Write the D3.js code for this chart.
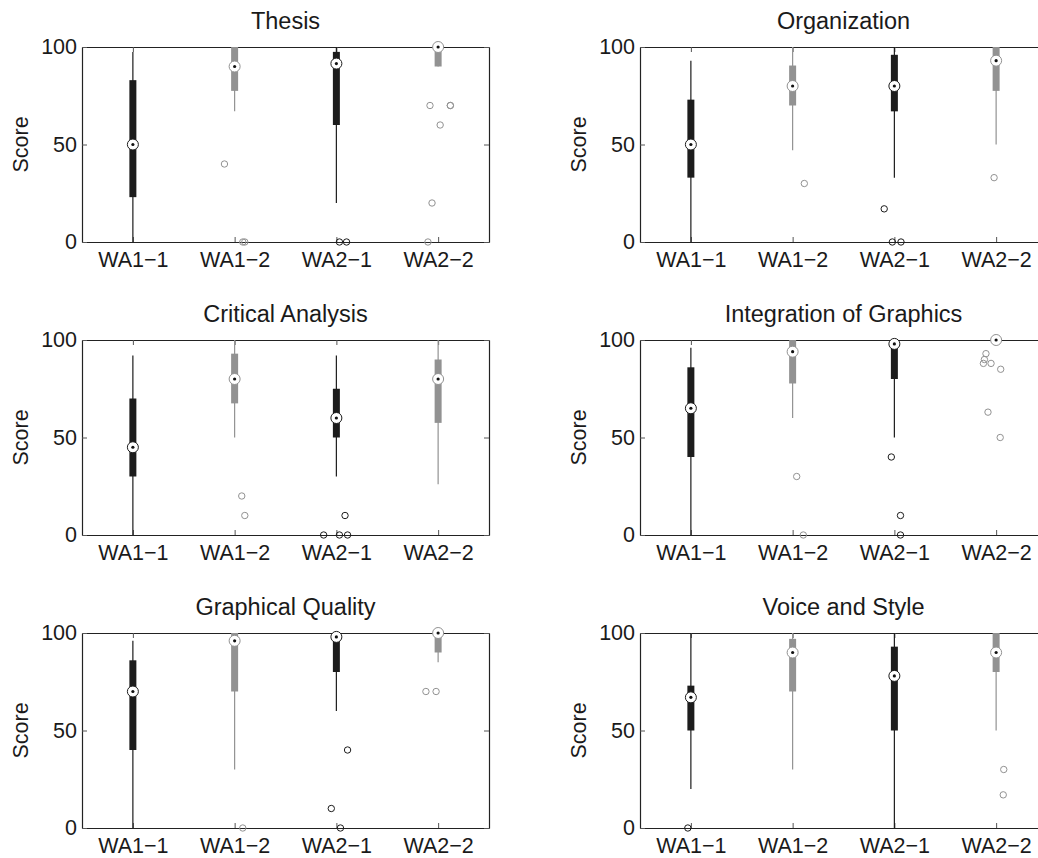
<!DOCTYPE html>
<html>
<head>
<meta charset="utf-8">
<script src="https://cdn.jsdelivr.net/npm/d3@7"></script>
<style>
  body { margin: 0; background: #fff; }
  svg { display: block; font-family: "Liberation Sans", Arial, sans-serif; }
</style>
</head>
<body>
<div id="chart"></div>
<script>
// categories and panel titles
const categories = ["WA1\u22121", "WA1\u22122", "WA2\u22121", "WA2\u22122"];
const titles = ["Thesis", "Organization", "Critical Analysis", "Integration of Graphics", "Graphical Quality", "Voice and Style"];
const yTicks = [0, 50, 100];

// box statistics, one row per panel, one value per category
const whiskerLow = [
  [0, 67, 20, 90],
  [0, 47, 33, 50],
  [0, 50, 30, 26],
  [0, 60, 50, 100],
  [0, 30, 60, 85],
  [20, 30, 0, 50]
];
const q1 = [
  [23, 77.5, 60, 90],
  [33, 70, 67, 77.5],
  [30, 67.5, 50, 57.5],
  [40, 77.7, 80, 100],
  [40, 70, 80, 90],
  [50, 70, 50, 80]
];
const median = [
  [50, 90, 91.5, 100],
  [50, 80, 80, 93],
  [45, 80, 60, 80],
  [65, 94, 98, 100],
  [70, 96, 98, 100],
  [67, 90, 78, 90]
];
const q3 = [
  [83, 100, 97.5, 100],
  [73, 90.5, 96, 100],
  [70, 93, 75, 90],
  [86, 100, 100, 100],
  [86, 100, 100, 100],
  [73, 97, 93, 100]
];
const whiskerHigh = [
  [97.5, 100, 100, 100],
  [93, 100, 100, 100],
  [92, 100, 92, 100],
  [96, 100, 100, 100],
  [96, 100, 100, 100],
  [100, 100, 100, 100]
];
// outliers: [category index, score, jitter in category units]
const outliers = [
  [[1, 40, -0.1], [1, 0, 0.08], [1, 0, 0.1], [2, 0, 0.03], [2, 0, 0.1],
   [3, 70, -0.08], [3, 70, 0.12], [3, 70, 0.12], [3, 60, 0.02], [3, 20, -0.06], [3, 0, -0.1]],
  [[1, 30, 0.115], [2, 17, -0.1], [2, 0, -0.02], [2, 0, 0.065], [3, 33, -0.02]],
  [[1, 20, 0.07], [1, 10, 0.1], [2, 10, 0.085], [2, 0, -0.125], [2, 0, 0.03], [2, 0, 0.11]],
  [[1, 30, 0.04], [1, 0, 0.105], [2, 40, -0.03], [2, 10, 0.06], [2, 0, 0.06],
   [3, 93, -0.1], [3, 90, -0.115], [3, 88, -0.125], [3, 88, -0.05], [3, 85, 0.045], [3, 63, -0.08], [3, 50, 0.04]],
  [[1, 0, 0.08], [2, 40, 0.11], [2, 10, -0.05], [2, 0, 0.04], [3, 70, -0.12], [3, 70, -0.02]],
  [[0, 0, -0.03], [3, 30, 0.075], [3, 17, 0.07]]
];

// layout
const width = 1038;
const height = 858;
const panelW = 407;
const panelH = 195;
const colX = [82, 640];
const rowY = [47, 340, 633];
const colors = ["#1c1c1c", "#929292", "#1c1c1c", "#929292"];

const svg = d3.select("#chart")
  .append("svg")
  .attr("width", width)
  .attr("height", height);

const x = d3.scaleLinear().domain([-0.5, 3.5]).range([0, panelW]);
const y = d3.scaleLinear().domain([0, 100]).range([panelH, 0]);

titles.forEach(function(title, p) {
  const g = svg.append("g")
    .attr("transform", "translate(" + colX[p % 2] + "," + rowY[Math.floor(p / 2)] + ")");

  // axes with inward ticks on all four sides
  const catTicks = d3.range(categories.length);
  g.append("g")
    .attr("class", "axis")
    .attr("transform", "translate(0," + panelH + ")")
    .call(d3.axisBottom(x).tickValues(catTicks).tickFormat(function(i) { return categories[i]; })
      .tickSizeInner(-5).tickSizeOuter(0).tickPadding(10));
  g.append("g")
    .attr("class", "axis")
    .call(d3.axisTop(x).tickValues(catTicks).tickFormat("").tickSizeInner(-5).tickSizeOuter(0));
  g.append("g")
    .attr("class", "axis")
    .call(d3.axisLeft(y).tickValues(yTicks).tickSizeInner(-5).tickSizeOuter(0).tickPadding(5));
  g.append("g")
    .attr("class", "axis")
    .attr("transform", "translate(" + panelW + ",0)")
    .call(d3.axisRight(y).tickValues(yTicks).tickFormat("").tickSizeInner(-5).tickSizeOuter(0));

  g.selectAll(".axis .domain").attr("stroke", "#222").attr("stroke-width", 1.2);
  g.selectAll(".axis .tick line").attr("stroke", "#555");
  g.selectAll(".axis text")
    .attr("fill", "#1a1a1a")
    .style("font-size", "21.5px");

  // title
  g.append("text")
    .attr("x", panelW / 2)
    .attr("y", -18)
    .attr("text-anchor", "middle")
    .attr("fill", "#1a1a1a")
    .style("font-size", "23.5px")
    .text(title);

  // y label
  g.append("text")
    .attr("transform", "translate(-54," + panelH / 2 + ") rotate(-90)")
    .attr("text-anchor", "middle")
    .attr("fill", "#1a1a1a")
    .style("font-size", "21.5px")
    .text("Score");

  const idx = d3.range(categories.length);

  // whiskers
  g.selectAll(".whisker")
    .data(idx)
    .enter()
    .append("line")
    .attr("x1", function(i) { return x(i); })
    .attr("x2", function(i) { return x(i); })
    .attr("y1", function(i) { return y(whiskerLow[p][i]); })
    .attr("y2", function(i) { return y(whiskerHigh[p][i]); })
    .attr("stroke", function(i) { return colors[i]; })
    .attr("stroke-width", 1.2);

  // boxes (thick line from q1 to q3)
  g.selectAll(".box")
    .data(idx)
    .enter()
    .append("line")
    .attr("x1", function(i) { return x(i); })
    .attr("x2", function(i) { return x(i); })
    .attr("y1", function(i) { return y(q1[p][i]); })
    .attr("y2", function(i) { return y(q3[p][i]); })
    .attr("stroke", function(i) { return colors[i]; })
    .attr("stroke-width", 7);

  // outliers
  g.selectAll(".outlier")
    .data(outliers[p])
    .enter()
    .append("circle")
    .attr("cx", function(d) { return x(d[0] + d[2]); })
    .attr("cy", function(d) { return y(d[1]); })
    .attr("r", 3.2)
    .attr("fill", "none")
    .attr("stroke", function(d) { return colors[d[0]]; })
    .attr("stroke-width", 1);

  // median markers: white circle with a dot
  g.selectAll(".med")
    .data(idx)
    .enter()
    .append("circle")
    .attr("cx", function(i) { return x(i); })
    .attr("cy", function(i) { return y(median[p][i]); })
    .attr("r", 5.5)
    .attr("fill", "#fff")
    .attr("stroke", function(i) { return colors[i]; })
    .attr("stroke-width", 1);
  g.selectAll(".dot")
    .data(idx)
    .enter()
    .append("circle")
    .attr("cx", function(i) { return x(i); })
    .attr("cy", function(i) { return y(median[p][i]); })
    .attr("r", 1.6)
    .attr("fill", "#111");
});
</script>
</body>
</html>
